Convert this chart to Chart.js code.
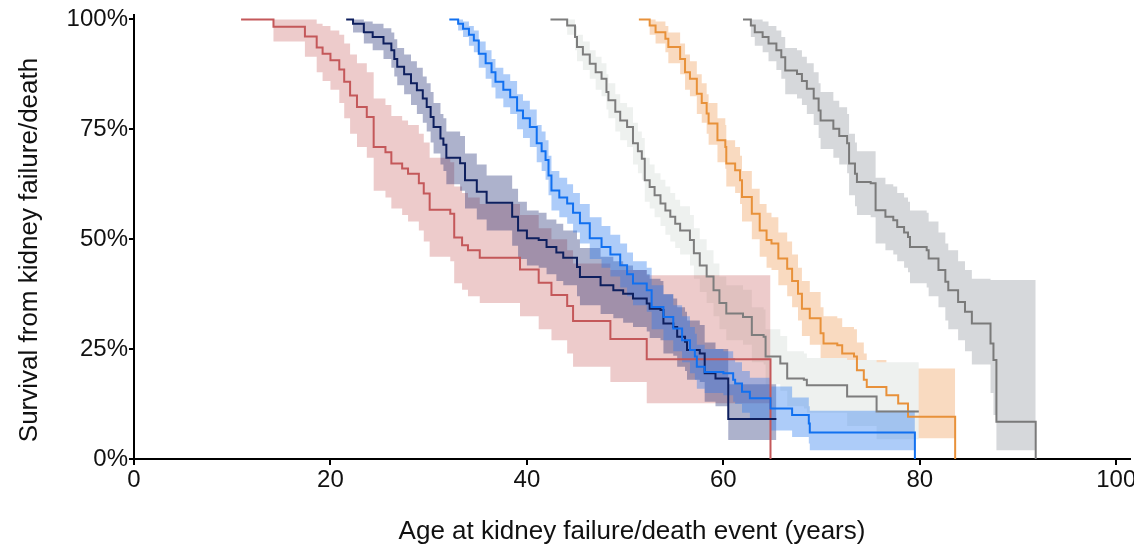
<!DOCTYPE html>
<html>
<head>
<meta charset="utf-8">
<script src="https://cdn.jsdelivr.net/npm/chart.js@4.4.1/dist/chart.umd.min.js"></script>
<style>
  html, body { margin: 0; padding: 0; background: #fff; }
  #wrap { width: 1134px; height: 550px; }
</style>
</head>
<body>
<div id="wrap"><canvas id="km" width="1134" height="550"></canvas></div>
<script>
// Kaplan-Meier survival by group: age (years), survival %, upper / lower CI %

const redAge  = [10.9, 14.2, 17.4, 18.6, 19.2, 20.0, 20.9, 21.4, 22.0, 22.7, 23.7, 24.4, 25.6, 26.2, 27.3, 27.9, 29.0, 29.5, 30.1, 32.2, 32.6, 33.4, 34.0, 35.2, 39.3, 41.2, 42.5, 44.1, 44.7, 48.5, 52.2, 64.8]
const redSurv = [100, 98.3, 96.1, 93.6, 92.2, 90.7, 88.6, 85.8, 82.7, 80.1, 77.8, 71.0, 69.8, 67.2, 66.1, 64.9, 62.7, 60.4, 56.7, 55.8, 50.4, 48.6, 47.5, 45.8, 43.1, 40.1, 37.3, 34.8, 31.4, 27.3, 22.7, 0]
const redHi   = [100, 100, 100, 99, 98.5, 97.5, 96.5, 94.5, 92, 90, 88, 82, 80.5, 78, 77, 76, 74, 72, 68.5, 67.5, 62, 60.5, 59.5, 58, 55.5, 52.5, 50, 47.5, 44.5, 43, 41.8, 41.8]
const redLo   = [100, 95, 91.5, 88, 86, 84, 81, 77.5, 74, 71, 68.5, 61, 59.5, 57, 55.5, 54, 52, 49.5, 46, 45, 40, 38.5, 37, 35.5, 32.5, 29.5, 27, 24, 21, 17.5, 12.7, 12.7]

const navyAge  = [21.6, 22.3, 23.4, 24.3, 25.4, 26.2, 26.5, 26.8, 27.5, 28.2, 28.8, 29.4, 29.8, 30.2, 30.5, 31.2, 31.5, 31.8, 33.2, 33.7, 34.9, 35.9, 38.5, 39.1, 40.0, 41.2, 42.0, 43.0, 43.7, 45.1, 45.4, 47.5, 48.8, 49.8, 50.8, 52.2, 52.5, 53.6, 53.9, 54.9, 55.3, 56.1, 56.3, 57.6, 58.1, 59.2, 60.5, 65.4]
const navySurv = [100, 99, 97.1, 96, 94.5, 93, 91, 89.2, 87.5, 85.5, 83.9, 82, 80.1, 77.8, 75.5, 72.9, 71.5, 68.5, 67.3, 63.4, 60.8, 58.3, 55.1, 52, 50.2, 49.8, 48.2, 47, 45.8, 43.7, 41.4, 39.5, 38.4, 37.6, 36.5, 35.4, 34.2, 33.9, 30.8, 30, 27.8, 26.7, 24.8, 24, 19.5, 18.3, 9.1, 9.1]
const navyHi   = [100, 100, 99.5, 99, 98, 97, 95.5, 93.5, 92, 90.5, 89, 87, 85.5, 83.5, 81, 78.5, 77.5, 74.5, 73.5, 69.5, 67, 64.5, 61.5, 58.5, 56.5, 56, 54.5, 53.5, 52, 50, 48, 46, 45, 44, 43, 42, 41, 40.5, 37.5, 36.5, 34.5, 33.5, 31.5, 30.5, 26.5, 25, 17, 17]
const navyLo   = [100, 97, 94.5, 93, 91, 89, 87, 85, 83, 80.5, 78.5, 76.5, 74.5, 72, 69.5, 67, 65.5, 62.5, 61, 57, 54.5, 52, 48.5, 45.5, 44, 43.5, 42, 40.5, 39.5, 37, 35, 33, 32, 31, 30, 29, 27.5, 27, 24, 23.5, 21, 20, 18, 17.5, 13, 12, 4.3, 4.3]

const blueAge  = [32.1, 33.0, 33.5, 34.1, 34.6, 35.1, 35.8, 36.4, 36.8, 37.6, 38.3, 39.0, 39.6, 40.3, 41.0, 41.5, 41.9, 42.2, 42.5, 43.3, 44.1, 44.7, 45.4, 46.4, 47.6, 48.5, 49.5, 50.2, 50.8, 52.2, 52.7, 53.9, 54.9, 55.8, 56.6, 57.1, 57.3, 58.1, 60.0, 61.0, 61.2, 61.9, 62.7, 64.8, 67.0, 68.7, 68.8, 79.5]
const blueSurv = [100, 99, 97.9, 96.5, 95.2, 92.2, 90, 88, 85.8, 84, 82.3, 79.3, 77.5, 75.5, 71.8, 70, 68, 64.5, 61.1, 59.5, 58.1, 56, 53.6, 50.2, 48.2, 46.5, 44.1, 42, 39.9, 38.4, 34.6, 32.3, 29.7, 27, 24.8, 23.3, 21, 19.8, 19.5, 18, 17.2, 15.3, 13.8, 11.5, 10, 8.1, 6, 0]
const blueHi   = [100, 100, 99.5, 98.5, 97.5, 95, 93, 91, 89, 87.5, 86, 83, 81.5, 79.5, 76, 74.5, 72.5, 69, 65.5, 64, 62.5, 60.5, 58, 55, 53, 51, 49, 47, 45, 43.5, 39.5, 37.5, 35, 32.5, 30, 28.5, 26, 25, 24.5, 23, 22, 20, 18.5, 16.5, 14, 12, 11, 11]
const blueLo   = [100, 97.5, 96, 94, 92.5, 89, 86.5, 84.5, 82, 80, 78.5, 75, 73, 71, 67.5, 65.5, 63.5, 60, 56.5, 55, 53.5, 51.5, 49, 45.5, 43.5, 41.5, 39, 37, 35, 33.5, 29.5, 27, 24.5, 22, 19.5, 18, 16, 15, 14.5, 13, 12.5, 10.5, 9, 6.5, 5, 3.5, 2, 2]

const grayAge  = [42.4, 44.1, 44.9, 45.1, 45.7, 46.4, 47.0, 47.6, 48.1, 48.3, 49.0, 49.5, 50.2, 50.8, 51.3, 51.7, 52.0, 52.5, 53.0, 53.6, 54.1, 54.6, 55.1, 55.6, 56.6, 57.0, 57.6, 58.3, 59.0, 59.6, 60.3, 62.0, 62.9, 64.1, 64.3, 65.8, 66.5, 68.2, 68.5, 72.6, 75.6, 79.9]
const graySurv = [100, 98.6, 96, 93.7, 92, 89.9, 88, 86.5, 83.5, 81.6, 79, 77, 75.5, 71.8, 70, 68.3, 63.4, 61.9, 60, 58.1, 56.5, 55.1, 53.5, 52, 49.8, 46.8, 44, 41.5, 38.4, 35.5, 33.1, 32.3, 28.2, 27.8, 23.3, 21.7, 18.3, 18, 16.8, 14.2, 10.8, 10.8]
const grayHi   = [100, 100, 98.5, 96.5, 95, 93, 91.5, 90, 87.5, 85.5, 83, 81, 80, 76.5, 74.5, 73, 68.5, 67, 65, 63.5, 62, 60.5, 59, 57.5, 55.5, 52.5, 50, 47.5, 44.5, 41.5, 39.5, 38.5, 34.5, 34, 29.5, 28, 24.5, 24, 23, 22.5, 22, 22]
const grayLo   = [100, 96.5, 93, 90.5, 88.5, 86.5, 84, 82.5, 79.5, 77.5, 74.5, 72.5, 71, 67, 65, 63.5, 58.5, 57, 55, 53, 51, 49.5, 48, 46.5, 44, 41, 38, 35.5, 32.5, 29.5, 27, 26, 22, 21.5, 17, 15.5, 12, 11.5, 10.5, 7.5, 4.5, 4.5]

const orangeAge  = [51.4, 52.5, 53.1, 54.1, 54.4, 55.6, 56.1, 56.6, 57.3, 57.8, 58.3, 58.5, 59.4, 60.2, 60.3, 61.2, 61.7, 61.9, 62.9, 63.7, 64.4, 64.9, 65.6, 66.5, 67.0, 67.6, 68.0, 68.8, 69.9, 70.2, 71.6, 72.1, 73.3, 73.6, 74.3, 74.6, 76.6, 77.8, 78.8, 83.6]
const orangeSurv = [100, 98.6, 97.1, 95.6, 93.7, 91, 88, 86.5, 83.1, 81, 78.6, 76.3, 72.5, 71, 67.2, 65.7, 63.4, 59.6, 55.8, 52, 49.8, 49, 45.6, 43.3, 40.5, 37.6, 34.2, 32, 28.6, 26.3, 25.9, 24, 23.3, 20.2, 18, 16.4, 14.5, 12.6, 9.6, 0]
const orangeHi   = [100, 100, 99.5, 98.5, 97, 94.5, 92, 90.5, 87.5, 85.5, 83, 81, 77.5, 76, 72.5, 71, 69, 65.5, 61.5, 58, 56, 55, 51.5, 49.5, 46.5, 43.5, 40.5, 38, 34.5, 32.5, 32, 30, 29.5, 26.5, 24, 22.5, 21, 21, 20.6, 20.6]
const orangeLo   = [100, 96.5, 94.5, 92.5, 90, 87.5, 84, 82.5, 78.5, 76.5, 74, 71.5, 67.5, 66, 62, 60.5, 58, 54, 50, 46, 43.5, 43, 39.5, 37, 34.5, 31.5, 28, 26, 22.5, 20.5, 20, 18, 17.5, 14.5, 12, 10.5, 8.5, 7, 4.7, 4.7]

const darkAge  = [62.0, 62.8, 63.2, 64.0, 64.6, 65.4, 65.9, 66.3, 67.5, 68.0, 68.5, 69.2, 69.7, 69.9, 71.2, 71.8, 72.6, 72.8, 73.4, 73.6, 75.0, 75.5, 76.5, 77.3, 77.7, 78.4, 78.8, 79.0, 80.7, 80.9, 81.9, 82.6, 82.9, 83.9, 84.6, 85.3, 87.2, 87.5, 87.8, 91.8]
const darkSurv = [100, 98.6, 97.1, 96, 94.5, 93, 91.4, 88.4, 87.6, 86, 84.2, 82, 79.3, 77, 75.1, 73.5, 71.8, 67.2, 64.9, 63, 62.7, 56.6, 55.1, 54.3, 52.8, 51.5, 50.5, 48.2, 47.5, 45.6, 43, 40.3, 38.4, 35.7, 33.5, 30.8, 26.3, 22.5, 8.5, 0]
const darkHi   = [100, 100, 100, 99.5, 98.5, 97.5, 96, 93.5, 93, 91.5, 90, 88, 85.5, 83.5, 81.5, 80, 78.5, 74, 72, 70, 70, 64, 62.5, 62, 60.5, 59.5, 58.5, 56.5, 56, 54, 51.5, 49, 47.5, 45, 43, 41, 40.7, 40.7, 40.7, 40.7]
const darkLo   = [100, 96, 94, 92.5, 90.5, 88.5, 86.5, 83, 82, 80.5, 78.5, 76, 73, 70.5, 68.5, 67, 65, 60, 57.5, 55.5, 55, 49, 47.5, 46.5, 45, 43.5, 42.5, 40, 39, 37, 34.5, 31.5, 29.5, 27, 24.5, 21.5, 15, 10, 2, 2]

const xTicks = [0, 20, 40, 60, 80, 100]
const yTicks = [0, 25, 50, 75, 100]

function pts(age, val) {
  return age.map((a, i) => ({ x: a, y: val[i] }))
}

function curve(label, age, surv, color) {
  return {
    label, data: pts(age, surv), stepped: true,
    borderColor: color, borderWidth: 2, pointRadius: 0, fill: false
  }
}

// upper edge fills down to the next dataset (the lower edge)
function band(label, age, hi, lo, color) {
  return [
    { label: label + ' hi', data: pts(age, hi), stepped: true, borderWidth: 0,
      borderColor: 'transparent', backgroundColor: color, pointRadius: 0, fill: '+1' },
    { label: label + ' lo', data: pts(age, lo), stepped: true, borderWidth: 0,
      borderColor: 'transparent', pointRadius: 0, fill: false }
  ]
}

// lower index = drawn on top
const datasets = [
  curve('blue', blueAge, blueSurv, '#1170f0'),
  curve('navy', navyAge, navySurv, '#0e1f5e'),
  curve('red', redAge, redSurv, '#c4585a'),
  curve('gray', grayAge, graySurv, '#7d7d7d'),
  curve('orange', orangeAge, orangeSurv, '#e8913a'),
  curve('dark', darkAge, darkSurv, '#7a7a7a'),
  ...band('blue', blueAge, blueHi, blueLo, 'rgba(40,120,240,0.38)'),
  ...band('navy', navyAge, navyHi, navyLo, 'rgba(20,35,110,0.35)'),
  ...band('red', redAge, redHi, redLo, 'rgba(190,70,70,0.28)'),
  ...band('gray', grayAge, grayHi, grayLo, '#eef1ef'),
  ...band('dark', darkAge, darkHi, darkLo, 'rgba(120,125,135,0.3)'),
  ...band('orange', orangeAge, orangeHi, orangeLo, 'rgba(235,140,60,0.32)')
]

const font = 'Liberation Sans, Arial, sans-serif'
const yTitle = 'Survival from kidney failure/death'

// y title sits a little below the plot centre in the original, so draw it by hand
const yTitlePlugin = {
  id: 'yTitle',
  afterDraw(chart) {
    const ctx = chart.ctx
    ctx.save()
    ctx.translate(29.5, 250)
    ctx.rotate(-Math.PI / 2)
    ctx.font = '26px ' + font
    ctx.fillStyle = '#111'
    ctx.textAlign = 'center'
    ctx.textBaseline = 'middle'
    ctx.fillText(yTitle, 0, 0)
    ctx.restore()
  }
}

new Chart(document.getElementById('km'), {
  type: 'line',
  data: { datasets },
  plugins: [yTitlePlugin],
  options: {
    responsive: false,
    animation: false,
    layout: { padding: { top: 15, right: 4, bottom: 0, left: 0 } },
    plugins: {
      legend: { display: false },
      tooltip: { enabled: false },
      filler: { drawTime: 'beforeDatasetsDraw' }
    },
    scales: {
      x: {
        type: 'linear', min: 0, max: 101.4,
        afterBuildTicks: s => { s.ticks = xTicks.map(v => ({ value: v })) },
        afterFit: s => { s.height = 91; s.paddingLeft = 0; s.paddingRight = 0 },
        ticks: { color: '#111', font: { family: font, size: 24 }, padding: 1, maxRotation: 0 },
        grid: { drawOnChartArea: false, tickLength: 6, color: '#000', lineWidth: 2 },
        border: { color: '#000', width: 2 },
        title: { display: true, text: 'Age at kidney failure/death event (years)',
                 color: '#111', font: { family: font, size: 26 }, padding: { top: 0, bottom: 3 } }
      },
      y: {
        type: 'linear', min: 0, max: 101,
        afterBuildTicks: s => { s.ticks = yTicks.map(v => ({ value: v })) },
        afterFit: s => { s.width = 134; s.paddingTop = 0; s.paddingBottom = 0 },
        ticks: { color: '#111', font: { family: font, size: 24 }, padding: 1,
                 callback: v => v + '%' },
        grid: { drawOnChartArea: false, tickLength: 5, color: '#000', lineWidth: 2 },
        border: { color: '#000', width: 2 }
      }
    }
  }
})
</script>
</body>
</html>
